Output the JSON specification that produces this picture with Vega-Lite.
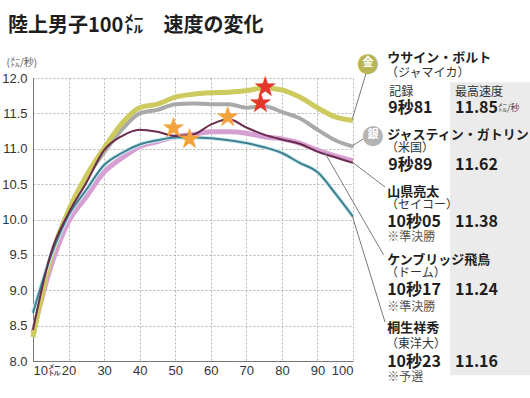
{
  "$schema": "https://vega.github.io/schema/vega-lite/v6.json",
  "width": 320,
  "height": 283,
  "autosize": {"type": "none"},
  "padding": {"left": 33, "top": 78, "right": 177, "bottom": 37},
  "background": "#ffffff",
  "config": {
    "view": {"stroke": null},
    "font": "Noto Sans CJK JP",
    "axis": {
      "labelFont": "Liberation Sans Narrow, Liberation Sans",
      "labelFontSize": 13,
      "labelColor": "#333333",
      "gridColor": "#b5b5b5",
      "gridDash": [2, 2],
      "gridWidth": 1,
      "domainColor": "#777777",
      "ticks": false
    }
  },
  "title": {
    "text": "陸上男子100㍍　速度の変化",
    "anchor": "start",
    "frame": "group",
    "dx": -25,
    "dy": 4,
    "offset": 18,
    "fontSize": 20,
    "fontWeight": "bold",
    "font": "Noto Sans CJK JP",
    "color": "#1e1e1e"
  },
  "datasets": {
    "speed": [
      {"athlete": "ボルト", "m": 10, "v": 8.34}, {"athlete": "ボルト", "m": 15, "v": 9.45}, {"athlete": "ボルト", "m": 20, "v": 10.13}, {"athlete": "ボルト", "m": 25, "v": 10.62}, {"athlete": "ボルト", "m": 30, "v": 11.01}, {"athlete": "ボルト", "m": 35, "v": 11.36}, {"athlete": "ボルト", "m": 40, "v": 11.58}, {"athlete": "ボルト", "m": 45, "v": 11.63}, {"athlete": "ボルト", "m": 50, "v": 11.73}, {"athlete": "ボルト", "m": 55, "v": 11.77}, {"athlete": "ボルト", "m": 60, "v": 11.79}, {"athlete": "ボルト", "m": 65, "v": 11.8}, {"athlete": "ボルト", "m": 70, "v": 11.82}, {"athlete": "ボルト", "m": 75, "v": 11.86}, {"athlete": "ボルト", "m": 80, "v": 11.83}, {"athlete": "ボルト", "m": 85, "v": 11.73}, {"athlete": "ボルト", "m": 90, "v": 11.58}, {"athlete": "ボルト", "m": 95, "v": 11.45}, {"athlete": "ボルト", "m": 100, "v": 11.4},
      {"athlete": "ガトリン", "m": 10, "v": 8.38}, {"athlete": "ガトリン", "m": 15, "v": 9.45}, {"athlete": "ガトリン", "m": 20, "v": 10.1}, {"athlete": "ガトリン", "m": 25, "v": 10.58}, {"athlete": "ガトリン", "m": 30, "v": 10.95}, {"athlete": "ガトリン", "m": 35, "v": 11.27}, {"athlete": "ガトリン", "m": 40, "v": 11.5}, {"athlete": "ガトリン", "m": 45, "v": 11.55}, {"athlete": "ガトリン", "m": 50, "v": 11.63}, {"athlete": "ガトリン", "m": 55, "v": 11.64}, {"athlete": "ガトリン", "m": 60, "v": 11.63}, {"athlete": "ガトリン", "m": 65, "v": 11.63}, {"athlete": "ガトリン", "m": 70, "v": 11.58}, {"athlete": "ガトリン", "m": 75, "v": 11.6}, {"athlete": "ガトリン", "m": 80, "v": 11.52}, {"athlete": "ガトリン", "m": 85, "v": 11.43}, {"athlete": "ガトリン", "m": 90, "v": 11.27}, {"athlete": "ガトリン", "m": 95, "v": 11.12}, {"athlete": "ガトリン", "m": 100, "v": 11.03},
      {"athlete": "山県", "m": 10, "v": 8.44}, {"athlete": "山県", "m": 15, "v": 9.52}, {"athlete": "山県", "m": 20, "v": 10.09}, {"athlete": "山県", "m": 25, "v": 10.52}, {"athlete": "山県", "m": 30, "v": 10.98}, {"athlete": "山県", "m": 35, "v": 11.18}, {"athlete": "山県", "m": 40, "v": 11.27}, {"athlete": "山県", "m": 45, "v": 11.24}, {"athlete": "山県", "m": 50, "v": 11.18}, {"athlete": "山県", "m": 55, "v": 11.2}, {"athlete": "山県", "m": 60, "v": 11.34}, {"athlete": "山県", "m": 65, "v": 11.42}, {"athlete": "山県", "m": 70, "v": 11.3}, {"athlete": "山県", "m": 75, "v": 11.2}, {"athlete": "山県", "m": 80, "v": 11.13}, {"athlete": "山県", "m": 85, "v": 11.07}, {"athlete": "山県", "m": 90, "v": 10.96}, {"athlete": "山県", "m": 95, "v": 10.88}, {"athlete": "山県", "m": 100, "v": 10.8},
      {"athlete": "ケンブリッジ", "m": 10, "v": 8.4}, {"athlete": "ケンブリッジ", "m": 15, "v": 9.33}, {"athlete": "ケンブリッジ", "m": 20, "v": 9.97}, {"athlete": "ケンブリッジ", "m": 25, "v": 10.32}, {"athlete": "ケンブリッジ", "m": 30, "v": 10.67}, {"athlete": "ケンブリッジ", "m": 35, "v": 10.87}, {"athlete": "ケンブリッジ", "m": 40, "v": 11.03}, {"athlete": "ケンブリッジ", "m": 45, "v": 11.1}, {"athlete": "ケンブリッジ", "m": 50, "v": 11.17}, {"athlete": "ケンブリッジ", "m": 55, "v": 11.2}, {"athlete": "ケンブリッジ", "m": 60, "v": 11.24}, {"athlete": "ケンブリッジ", "m": 65, "v": 11.24}, {"athlete": "ケンブリッジ", "m": 70, "v": 11.22}, {"athlete": "ケンブリッジ", "m": 75, "v": 11.17}, {"athlete": "ケンブリッジ", "m": 80, "v": 11.14}, {"athlete": "ケンブリッジ", "m": 85, "v": 11.08}, {"athlete": "ケンブリッジ", "m": 90, "v": 10.98}, {"athlete": "ケンブリッジ", "m": 95, "v": 10.9}, {"athlete": "ケンブリッジ", "m": 100, "v": 10.83},
      {"athlete": "桐生", "m": 10, "v": 8.68}, {"athlete": "桐生", "m": 15, "v": 9.48}, {"athlete": "桐生", "m": 20, "v": 10.06}, {"athlete": "桐生", "m": 25, "v": 10.42}, {"athlete": "桐生", "m": 30, "v": 10.77}, {"athlete": "桐生", "m": 35, "v": 10.94}, {"athlete": "桐生", "m": 40, "v": 11.06}, {"athlete": "桐生", "m": 45, "v": 11.12}, {"athlete": "桐生", "m": 50, "v": 11.16}, {"athlete": "桐生", "m": 55, "v": 11.16}, {"athlete": "桐生", "m": 60, "v": 11.15}, {"athlete": "桐生", "m": 65, "v": 11.12}, {"athlete": "桐生", "m": 70, "v": 11.08}, {"athlete": "桐生", "m": 75, "v": 11.02}, {"athlete": "桐生", "m": 80, "v": 10.94}, {"athlete": "桐生", "m": 85, "v": 10.8}, {"athlete": "桐生", "m": 90, "v": 10.67}, {"athlete": "桐生", "m": 95, "v": 10.37}, {"athlete": "桐生", "m": 100, "v": 10.04}
    ],
    "peaks": [
      {"athlete": "ボルト", "medal": "yes", "m": 75.3, "v": 11.86},
      {"athlete": "ガトリン", "medal": "yes", "m": 74, "v": 11.63},
      {"athlete": "山県", "medal": "no", "m": 64.8, "v": 11.44},
      {"athlete": "ケンブリッジ", "medal": "no", "m": 49.5, "v": 11.28},
      {"athlete": "桐生", "medal": "no", "m": 54, "v": 11.12}
    ],
    "leaders": [
      {"athlete": "ボルト", "m": 99.8, "v": 11.42, "m2": 103.7, "v2": 12.07},
      {"athlete": "ガトリン", "m": 99.8, "v": 11.04, "m2": 102.9, "v2": 11.14},
      {"athlete": "山県", "m": 99.8, "v": 10.81, "m2": 109.0, "v2": 10.46},
      {"athlete": "ケンブリッジ", "m": 92.0, "v": 10.95, "m2": 108.6, "v2": 9.5},
      {"athlete": "桐生", "m": 99.8, "v": 10.05, "m2": 109.0, "v2": 8.55}
    ],
    "panel": [{"m": 127.3, "m2": 149.9, "v": 11.94, "v2": 7.8}],
    "labels": [
      {"k": "gold", "t": "金", "m": 104.2, "v": 12.21},
      {"k": "silver", "t": "銀", "m": 105.6, "v": 11.19},
      {"k": "name", "t": "ウサイン・ボルト", "m": 109.6, "v": 12.28},
      {"k": "name", "t": "ジャスティン・ガトリン", "m": 109.6, "v": 11.19},
      {"k": "name", "t": "山県亮太", "m": 109.6, "v": 10.39},
      {"k": "name", "t": "ケンブリッジ飛鳥", "m": 109.6, "v": 9.43},
      {"k": "name", "t": "桐生祥秀", "m": 109.6, "v": 8.47},
      {"k": "team", "t": "（ジャマイカ）", "m": 109.3, "v": 12.07},
      {"k": "team", "t": "（米国）", "m": 109.3, "v": 11.01},
      {"k": "team", "t": "（セイコー）", "m": 109.3, "v": 10.21},
      {"k": "team", "t": "（ドーム）", "m": 109.3, "v": 9.25},
      {"k": "team", "t": "（東洋大）", "m": 109.3, "v": 8.24},
      {"k": "head", "t": "記録", "m": 110.2, "v": 11.8},
      {"k": "head", "t": "最高速度", "m": 128.7, "v": 11.8},
      {"k": "rec", "t": "9秒81", "m": 109.9, "v": 11.58},
      {"k": "rec", "t": "9秒89", "m": 109.9, "v": 10.77},
      {"k": "rec", "t": "10秒05", "m": 109.6, "v": 9.97},
      {"k": "rec", "t": "10秒17", "m": 109.6, "v": 9.01},
      {"k": "rec", "t": "10秒23", "m": 109.6, "v": 7.99},
      {"k": "rec", "t": "11.85", "m": 128.7, "v": 11.58},
      {"k": "rec", "t": "11.62", "m": 128.7, "v": 10.77},
      {"k": "rec", "t": "11.38", "m": 128.7, "v": 9.97},
      {"k": "rec", "t": "11.24", "m": 128.7, "v": 9.01},
      {"k": "rec", "t": "11.16", "m": 128.7, "v": 7.99},
      {"k": "unit", "t": "㍍/秒", "m": 140.8, "v": 11.57},
      {"k": "note", "t": "※準決勝", "m": 109.6, "v": 9.75},
      {"k": "note", "t": "※準決勝", "m": 109.6, "v": 8.77},
      {"k": "note", "t": "※予選", "m": 109.6, "v": 7.77}
    ]
  },
  "encoding": {
    "x": {
      "field": "m", "type": "quantitative",
      "scale": {"domain": [10, 100], "nice": false, "zero": false},
      "axis": {
        "title": null,
        "values": [10, 20, 30, 40, 50, 60, 70, 80, 90, 100],
        "labelExpr": "datum.value == 10 ? '10㍍' : datum.label",
        "labelPadding": 3
      }
    },
    "y": {
      "field": "v", "type": "quantitative",
      "scale": {"domain": [8, 12], "nice": false, "zero": false},
      "axis": {
        "title": "(㍍/秒)",
        "titleAngle": 0,
        "titleX": -27,
        "titleY": -16,
        "titleAlign": "left",
        "titleBaseline": "middle",
        "titleFont": "Noto Sans CJK JP",
        "titleFontSize": 10,
        "titleFontWeight": "normal",
        "titleColor": "#555555",
        "values": [8, 8.5, 9, 9.5, 10, 10.5, 11, 11.5, 12],
        "format": ".1f",
        "labelPadding": 6
      }
    }
  },
  "layer": [
    {
      "data": {"name": "panel"},
      "mark": {"type": "rect", "color": "#ebebeb"},
      "encoding": {"x2": {"field": "m2"}, "y2": {"field": "v2"}}
    },
    {
      "data": {"name": "speed"},
      "transform": [{"filter": "datum.athlete == 'ケンブリッジ'"}],
      "mark": {"type": "line", "color": "#d7a0d2", "strokeWidth": 5, "interpolate": "monotone"},
      "encoding": {}
    },
    {
      "data": {"name": "speed"},
      "transform": [{"filter": "datum.athlete == 'ガトリン'"}],
      "mark": {"type": "line", "color": "#a9a9a9", "strokeWidth": 4, "interpolate": "monotone"},
      "encoding": {}
    },
    {
      "data": {"name": "speed"},
      "transform": [{"filter": "datum.athlete == 'ボルト'"}],
      "mark": {"type": "line", "color": "#cdca5e", "strokeWidth": 5, "interpolate": "monotone"},
      "encoding": {}
    },
    {
      "data": {"name": "speed"},
      "transform": [{"filter": "datum.athlete == '桐生'"}],
      "mark": {"type": "line", "color": "#c9eaf1", "strokeWidth": 4, "interpolate": "monotone"},
      "encoding": {}
    },
    {
      "data": {"name": "speed"},
      "transform": [{"filter": "datum.athlete == '桐生'"}],
      "mark": {"type": "line", "color": "#3f7f8e", "strokeWidth": 2, "interpolate": "monotone"},
      "encoding": {}
    },
    {
      "data": {"name": "speed"},
      "transform": [{"filter": "datum.athlete == '山県'"}],
      "mark": {"type": "line", "color": "#6a2b4c", "strokeWidth": 2, "interpolate": "monotone"},
      "encoding": {}
    },
    {
      "data": {"name": "leaders"},
      "mark": {"type": "rule", "color": "#7a7a7a", "strokeWidth": 1},
      "encoding": {"x2": {"field": "m2"}, "y2": {"field": "v2"}}
    },
    {
      "data": {"name": "peaks"},
      "transform": [{"filter": "datum.medal == 'no'"}],
      "mark": {"type": "text", "text": "★", "color": "#f3a23c", "fontSize": 28, "align": "center", "baseline": "middle", "font": "DejaVu Sans"},
      "encoding": {}
    },
    {
      "data": {"name": "peaks"},
      "transform": [{"filter": "datum.medal == 'yes'"}],
      "mark": {"type": "text", "text": "★", "color": "#e2382a", "fontSize": 28, "align": "center", "baseline": "middle", "font": "DejaVu Sans"},
      "encoding": {}
    },
    {
      "data": {"name": "labels"},
      "transform": [{"filter": "datum.k == 'gold'"}],
      "mark": {"type": "text", "text": "●", "color": "#b8b555", "fontSize": 26, "align": "center", "baseline": "middle", "font": "DejaVu Sans"},
      "encoding": {}
    },
    {
      "data": {"name": "labels"},
      "transform": [{"filter": "datum.k == 'silver'"}],
      "mark": {"type": "text", "text": "●", "color": "#b3b3b3", "fontSize": 26, "align": "center", "baseline": "middle", "font": "DejaVu Sans"},
      "encoding": {}
    },
    {
      "data": {"name": "labels"},
      "transform": [{"filter": "datum.k == 'gold' || datum.k == 'silver'"}],
      "mark": {"type": "text", "color": "#ffffff", "fontSize": 11, "fontWeight": "bold", "align": "center", "baseline": "middle", "font": "Noto Sans CJK JP"},
      "encoding": {"text": {"field": "t"}}
    },
    {
      "data": {"name": "labels"},
      "transform": [{"filter": "datum.k == 'name'"}],
      "mark": {"type": "text", "color": "#1e1e1e", "fontSize": 13, "fontWeight": "bold", "align": "left", "baseline": "middle", "font": "Noto Sans CJK JP"},
      "encoding": {"text": {"field": "t"}}
    },
    {
      "data": {"name": "labels"},
      "transform": [{"filter": "datum.k == 'team' || datum.k == 'head'"}],
      "mark": {"type": "text", "color": "#333333", "fontSize": 12, "align": "left", "baseline": "middle", "font": "Noto Sans CJK JP"},
      "encoding": {"text": {"field": "t"}}
    },
    {
      "data": {"name": "labels"},
      "transform": [{"filter": "datum.k == 'rec'"}],
      "mark": {"type": "text", "color": "#1e1e1e", "fontSize": 16, "fontWeight": "bold", "align": "left", "baseline": "middle", "font": "Noto Sans CJK JP"},
      "encoding": {"text": {"field": "t"}}
    },
    {
      "data": {"name": "labels"},
      "transform": [{"filter": "datum.k == 'unit'"}],
      "mark": {"type": "text", "color": "#444444", "fontSize": 9, "align": "left", "baseline": "middle", "font": "Noto Sans CJK JP"},
      "encoding": {"text": {"field": "t"}}
    },
    {
      "data": {"name": "labels"},
      "transform": [{"filter": "datum.k == 'note'"}],
      "mark": {"type": "text", "color": "#555555", "fontSize": 12, "align": "left", "baseline": "middle", "font": "Noto Sans CJK JP"},
      "encoding": {"text": {"field": "t"}}
    }
  ]
}
